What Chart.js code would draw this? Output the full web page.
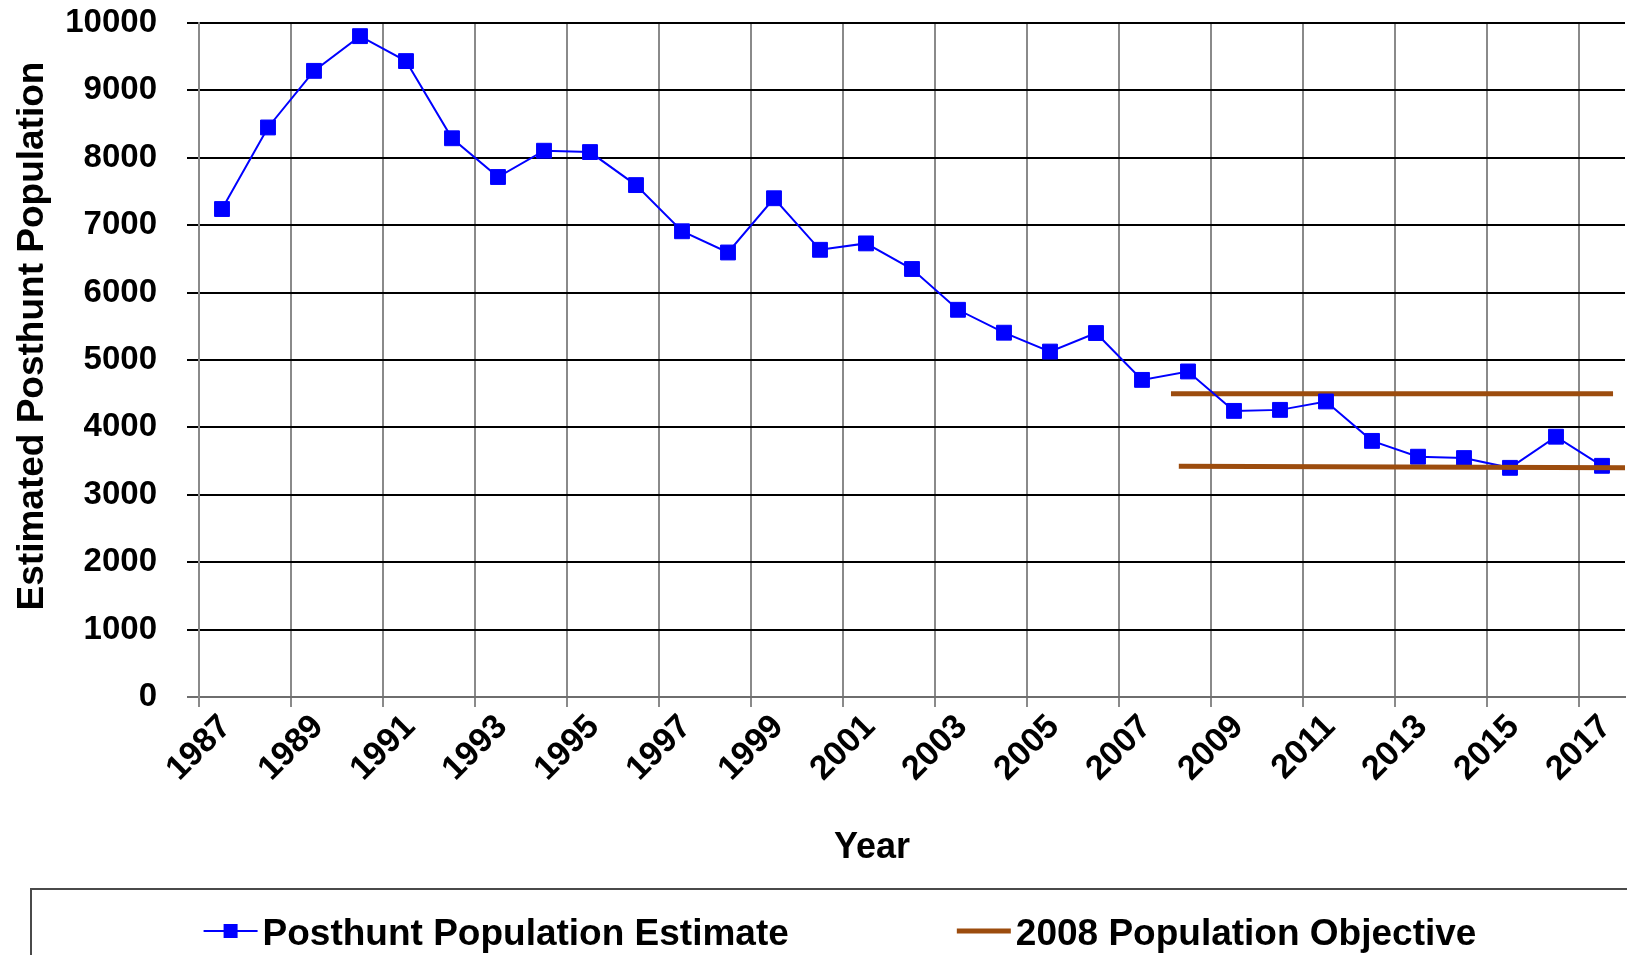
<!DOCTYPE html>
<html lang="en">
<head>
<meta charset="UTF-8" />
<title>Estimated Posthunt Population</title>
<script src="https://cdn.jsdelivr.net/npm/chart.js@4.4.1/dist/chart.umd.min.js"></script>
<style>
  html, body { margin: 0; padding: 0; background: #fff; overflow: hidden; }
  #wrap { width: 1627px; height: 955px; position: relative; }
</style>
</head>
<body>
<div id="wrap"><canvas id="myChart"></canvas></div>

<script>
// data
const years = [1987, 1988, 1989, 1990, 1991, 1992, 1993, 1994, 1995, 1996,
  1997, 1998, 1999, 2000, 2001, 2002, 2003, 2004, 2005, 2006,
  2007, 2008, 2009, 2010, 2011, 2012, 2013, 2014, 2015, 2016, 2017];
const posthunt = [7240, 8450, 9290, 9805, 9435, 8290, 7715, 8105, 8085, 7595,
  6910, 6595, 7400, 6635, 6730, 6350, 5745, 5405, 5125, 5400,
  4705, 4830, 4245, 4260, 4385, 3800, 3565, 3545, 3400, 3862, 3430];

// the two objective bars (start and end of each)
const objHighYears = [2007.63, 2017.24];
const objHigh = [4500, 4500];
const objLowYears = [2007.8, 2017.5];
const objLow = [3425, 3400];

const tickYears = [1987, 1989, 1991, 1993, 1995, 1997, 1999, 2001, 2003,
  2005, 2007, 2009, 2011, 2013, 2015, 2017];

const seriesName = 'Posthunt Population Estimate';
const objName = '2008 Population Objective';
const xTitle = 'Year';
const yTitle = 'Estimated Posthunt Population';

const textFont = "'Liberation Sans', Arial, sans-serif";
const blue = '#0000FF';
const brown = '#9C4C0E';

// legend box, axis titles drawn on the canvas
const extras = {
  id: 'extras',
  afterDraw(chart) {
    const ctx = chart.ctx;
    ctx.save();
    ctx.fillStyle = '#000';
    ctx.font = 'bold 36px ' + textFont;
    ctx.textAlign = 'center';
    ctx.textBaseline = 'alphabetic';
    ctx.fillText(xTitle, 872, 858);

    ctx.save();
    ctx.translate(43, 336);
    ctx.rotate(-Math.PI / 2);
    ctx.font = 'bold 37px ' + textFont;
    ctx.fillText(yTitle, 0, 0);
    ctx.restore();

    // legend frame
    ctx.strokeStyle = '#4a4a4a';
    ctx.lineWidth = 2;
    ctx.strokeRect(31, 889, 1640, 100);

    ctx.font = 'bold 37px ' + textFont;
    ctx.textAlign = 'left';
    const w1 = ctx.measureText(seriesName).width;
    const w2 = ctx.measureText(objName).width;
    const mark = 54, gap = 5, between = 168;
    const total = mark + gap + w1 + between + mark + gap + w2;
    let x = 840 - total / 2;
    const y = 931;

    ctx.strokeStyle = blue;
    ctx.lineWidth = 2;
    ctx.beginPath();
    ctx.moveTo(x, y);
    ctx.lineTo(x + mark, y);
    ctx.stroke();
    ctx.fillStyle = blue;
    ctx.fillRect(x + mark / 2 - 7, y - 7, 14, 14);
    x += mark + gap;
    ctx.fillStyle = '#000';
    ctx.fillText(seriesName, x, 945);
    x += w1 + between;

    ctx.strokeStyle = brown;
    ctx.lineWidth = 5;
    ctx.beginPath();
    ctx.moveTo(x, y);
    ctx.lineTo(x + mark, y);
    ctx.stroke();
    x += mark + gap;
    ctx.fillText(objName, x, 945);
    ctx.restore();
  }
};

const ctx = document.getElementById('myChart').getContext('2d');
const chart = new Chart(ctx, {
  type: 'line',
  data: {
    datasets: [{
      label: seriesName,
      data: years.map((yr, i) => ({ x: yr, y: posthunt[i] })),
      borderColor: blue,
      backgroundColor: blue,
      borderWidth: 2,
      pointStyle: 'rect',
      pointRadius: 10.5,
      pointBorderWidth: 1,
      pointBorderColor: blue,
      pointBackgroundColor: blue,
      order: 1
    }, {
      label: objName,
      data: objHighYears.map((yr, i) => ({ x: yr, y: objHigh[i] })),
      borderColor: brown,
      borderWidth: 5,
      pointRadius: 0,
      order: 2
    }, {
      label: objName,
      data: objLowYears.map((yr, i) => ({ x: yr, y: objLow[i] })),
      borderColor: brown,
      borderWidth: 5,
      pointRadius: 0,
      order: 0
    }]
  },
  options: {
    responsive: true,
    maintainAspectRatio: false,
    animation: false,
    layout: { autoPadding: false, padding: { top: 23, left: 0, right: 2, bottom: 0 } },
    plugins: {
      legend: { display: false },
      tooltip: { enabled: false }
    },
    scales: {
      x: {
        type: 'linear',
        min: 1986.5,
        max: 2017.5,
        afterBuildTicks: axis => {
          axis.ticks = tickYears.map(yr => ({ value: yr - 0.5 }));
        },
        afterFit: axis => {
          axis.height = 258;
          axis.paddingLeft = 0;
          axis.paddingRight = 0;
        },
        ticks: {
          autoSkip: false,
          minRotation: 45,
          maxRotation: 45,
          padding: 0,
          labelOffset: 27,
          color: '#000',
          font: { family: textFont, size: 34, weight: 'bold' },
          callback: (value, index) => String(tickYears[index])
        },
        grid: { color: '#8a8a8a', lineWidth: 2, tickLength: 10 },
        border: { color: '#6e6e6e', width: 2 }
      },
      y: {
        min: 0,
        max: 10000,
        afterFit: axis => {
          axis.width = 199;
          axis.paddingTop = 0;
          axis.paddingBottom = 0;
        },
        ticks: {
          stepSize: 1000,
          padding: 30,
          color: '#000',
          font: { family: textFont, size: 33, weight: 'bold' },
          callback: value => String(value)
        },
        grid: {
          color: c => (c.tick && c.tick.value === 0 ? '#6e6e6e' : '#000'),
          lineWidth: 2,
          tickLength: 12
        },
        border: { color: '#8a8a8a', width: 2 }
      }
    }
  },
  plugins: [extras]
});
</script>
</body>
</html>
